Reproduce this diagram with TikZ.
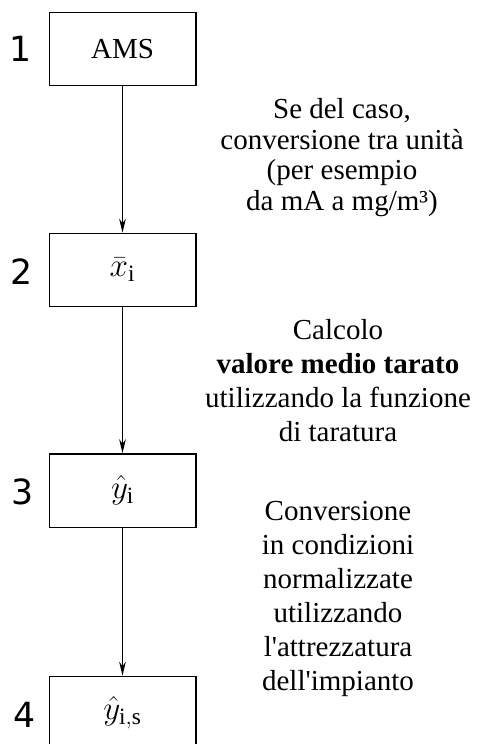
\documentclass[tikz,border=0pt]{standalone}
\usepackage{amsmath}
\usepackage{fontspec}
\setmainfont{Liberation Serif}
\newfontfamily\stepfont{DejaVu Sans}
\usetikzlibrary{arrows.meta,positioning}

\tikzset{
  stepbox/.style={draw, line width=1pt, minimum width=110pt, minimum height=55pt, inner sep=0pt,
    font=\fontsize{21.75}{25.5}\selectfont},
  mathbox/.style={stepbox, font=\fontsize{25}{29}\selectfont},
  stepno/.style={inner sep=0pt, font=\stepfont\fontsize{26}{30}\selectfont},
  note/.style={align=center, inner sep=0pt, font=\fontsize{21.75}{25.5}\selectfont},
  flow/.style={line width=0.9pt, -{Stealth[length=10.5pt,width=5pt]}}
}

\begin{document}
\begin{tikzpicture}[x=0.75pt,y=0.75pt,yscale=-1,xscale=1]
\useasboundingbox (0,0) rectangle (477,744);
\clip (0,0) rectangle (477,744);

% Boxes
\node [stepbox] (ams) at (122.5,49) {AMS};
\node [mathbox] (xbar) at (122.5,270) {$\bar{x}_{\mathrm{i}}$};
\node [mathbox] (yhat) at (122.5,490.5) {$\hat{y}_{\mathrm{i}}$};
\node [mathbox] (yhats) at (122.5,713) {$\hat{y}_{\mathrm{i,s}}$};

% Step numbers
\node [stepno] (n1) at (21,49) {1};
\node [stepno] (n2) at (22,272) {2};
\node [stepno] (n3) at (23,492) {3};
\node [stepno] (n4) at (25,715) {4};

% Arrows
\draw [flow] (ams) -- (xbar);
\draw [flow] (xbar) -- (yhat);
\draw [flow] (yhat) -- (yhats);

% Text Node
\node [note, font=\fontsize{21.75}{23}\selectfont] (conv) at (342,157.5) {Se del caso,\\conversione tra unità\\(per esempio\\da mA a mg/m³)};
% Text Node
\node [note] (calc) at (338,381) {Calcolo\\\textbf{valore medio tarato}\\utilizzando la funzione\\di taratura};
% Text Node
\node [note] (norm) at (338,599) {Conversione\\in condizioni\\normalizzate\\utilizzando\\l\textquotesingle attrezzatura\\dell\textquotesingle impianto};

\end{tikzpicture}
\end{document}
